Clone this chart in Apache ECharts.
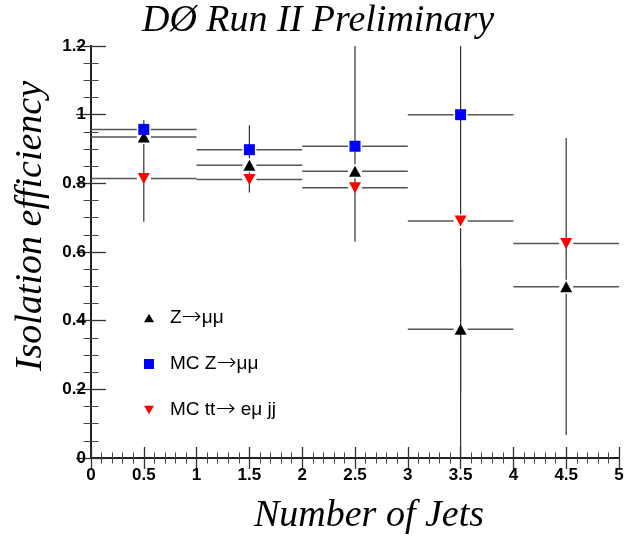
<!DOCTYPE html>
<html>
<head>
<meta charset="utf-8">
<script src="https://cdn.jsdelivr.net/npm/echarts@6/dist/echarts.min.js"></script>
<style>html,body{margin:0;padding:0;background:#fff;}#c{width:636px;height:539px;}</style>
</head>
<body>
<div id="c"></div>
<script>
// ---- data ----
const binCenters = [0.5, 1.5, 2.5, 3.5, 4.5];
const binHalfWidth = [0.5, 0.5, 0.5, 0.5, 0.5];

const zmmEff  = [0.935, 0.853, 0.835, 0.375, 0.499];
const zmmLow  = [0.688, 0.773, 0.630, 0.190, 0.067];
const zmmHigh = [0.984, 0.969, 1.200, 0.553, 0.932];

const mcZEff  = [0.957, 0.898, 0.908, 1.000, null];
const mcZLow  = [0.950, 0.890, 0.900, 1.000, null];
const mcZHigh = [0.965, 0.905, 0.915, 1.000, null];

const ttEff  = [0.814, 0.811, 0.787, 0.690, 0.625];
const ttLow  = [0.808, 0.805, 0.780, 0.000, 0.625];
const ttHigh = [0.820, 0.817, 0.795, 1.200, 0.625];

const xTicks = [0, 0.5, 1, 1.5, 2, 2.5, 3, 3.5, 4, 4.5, 5];
const yTicks = [0, 0.2, 0.4, 0.6, 0.8, 1, 1.2];

const seriesNames = ['Z\u2192\u03bc\u03bc', 'MC Z\u2192\u03bc\u03bc', 'MC tt\u2192 e\u03bc jj'];

// ---- build ----
function pts(eff) {
  return binCenters.map((x, i) => eff[i] == null ? null : [x, eff[i]]).filter(Boolean);
}
function errs(eff, lo, hi) {
  return binCenters.map((x, i) => eff[i] == null ? null : [x, eff[i], binHalfWidth[i], lo[i], hi[i]]).filter(Boolean);
}

const GAP = 7;
function errRender(params, api) {
  const x = api.value(0), y = api.value(1), xe = api.value(2), lo = api.value(3), hi = api.value(4);
  const c = api.coord([x, y]);
  const l = api.coord([x - xe, y]);
  const r = api.coord([x + xe, y]);
  const pLo = api.coord([x, lo]);
  const pHi = api.coord([x, hi]);
  const hs = {stroke: '#555', lineWidth: 1.5};
  const vs = {stroke: '#333', lineWidth: 1.2};
  const ch = [];
  if (c[0] - GAP > l[0]) ch.push({type: 'line', shape: {x1: l[0], y1: c[1], x2: c[0] - GAP, y2: c[1]}, style: hs});
  if (r[0] > c[0] + GAP) ch.push({type: 'line', shape: {x1: c[0] + GAP, y1: c[1], x2: r[0], y2: c[1]}, style: hs});
  if (pHi[1] < c[1] - GAP) ch.push({type: 'line', shape: {x1: c[0], y1: pHi[1], x2: c[0], y2: c[1] - GAP}, style: vs});
  if (pLo[1] > c[1] + GAP) ch.push({type: 'line', shape: {x1: c[0], y1: c[1] + GAP, x2: c[0], y2: pLo[1]}, style: vs});
  return {type: 'group', children: ch};
}

const downTri = 'path://M0,0L20,0L10,17.3Z';
const upTri = 'path://M10,0L20,17.3L0,17.3Z';

const tickLabelStyle = {fontFamily: 'Liberation Sans, Arial, sans-serif', fontWeight: 'bold', fontSize: 17, color: '#000'};
const axisLineStyle = {show: true, lineStyle: {color: '#222', width: 2}};

function xAx(pos, showLabel, tl) {
  return {
    type: 'value', position: pos, min: 0, max: 5, interval: 0.5,
    axisLine: axisLineStyle,
    axisTick: {show: true, inside: true, length: tl, lineStyle: {color: '#333', width: 1.3}},
    minorTick: {show: true, splitNumber: 5, length: tl / 2, lineStyle: {color: '#444', width: 1}},
    splitLine: {show: false},
    axisLabel: showLabel ? Object.assign({margin: 9, formatter: v => String(+v.toFixed(1))}, tickLabelStyle) : {show: false}
  };
}
function yAx(pos, showLabel, tl) {
  return {
    type: 'value', position: pos, min: 0, max: 1.2, interval: 0.2,
    axisLine: axisLineStyle,
    axisTick: {show: true, inside: true, length: tl, lineStyle: {color: '#333', width: 1.3}},
    minorTick: {show: true, splitNumber: 4, length: tl / 2, lineStyle: {color: '#444', width: 1}},
    splitLine: {show: false},
    axisLabel: showLabel ? Object.assign({margin: 5, formatter: v => String(+v.toFixed(1))}, tickLabelStyle) : {show: false}
  };
}

const chart = echarts.init(document.getElementById('c'), null, {renderer: 'canvas'});
const serif = 'Liberation Serif, Times New Roman, serif';
chart.setOption({
  animation: false,
  backgroundColor: '#fff',
  grid: {left: 91, right: 17, top: 46, bottom: 81},
  xAxis: [xAx('bottom', true, 11), xAx('top', false, 11)],
  yAxis: [yAx('left', true, 15), yAx('right', false, 15)],
  legend: {
    orient: 'vertical', left: 144, top: 306, itemGap: 22, padding: 0,
    itemWidth: 10, itemHeight: 10,
    formatter: n => n.replace('\u2192', '{a|\u2192}'),
    textStyle: {
      fontFamily: 'Liberation Sans, Arial, sans-serif', fontSize: 19, lineHeight: 20, color: '#000', padding: [0, 0, 0, 11],
      rich: {a: {fontFamily: 'DejaVu Sans, sans-serif', fontWeight: 200, fontSize: 24, lineHeight: 20, color: '#000'}}
    },
    data: seriesNames.map(n => ({name: n}))
  },
  graphic: [
    {type: 'text', x: 318, y: 21, style: {text: 'D\u00d8 Run II Preliminary', font: 'italic 38px ' + serif, fill: '#000', align: 'center', verticalAlign: 'middle'}},
    {type: 'text', x: 369, y: 516, style: {text: 'Number of Jets', font: 'italic 38px ' + serif, fill: '#000', align: 'center', verticalAlign: 'middle'}},
    {type: 'text', x: 31, y: 226, rotation: Math.PI / 2, style: {text: 'Isolation efficiency', font: 'italic 38px ' + serif, fill: '#000', align: 'center', verticalAlign: 'middle'}}
  ],
  series: [
    {type: 'custom', renderItem: errRender, data: errs(zmmEff, zmmLow, zmmHigh), clip: true, z: 1, silent: true},
    {type: 'custom', renderItem: errRender, data: errs(mcZEff, mcZLow, mcZHigh), clip: true, z: 1, silent: true},
    {type: 'custom', renderItem: errRender, data: errs(ttEff, ttLow, ttHigh), clip: true, z: 1, silent: true},
    {name: seriesNames[0], type: 'scatter', data: pts(zmmEff), symbol: upTri, symbolSize: [12, 11], itemStyle: {color: '#000', opacity: 1}, z: 3},
    {name: seriesNames[1], type: 'scatter', data: pts(mcZEff), symbol: 'rect', symbolSize: 11, itemStyle: {color: '#0000ff', opacity: 1}, z: 3},
    {name: seriesNames[2], type: 'scatter', data: pts(ttEff), symbol: downTri, symbolSize: [12, 11], itemStyle: {color: '#ff0000', opacity: 1}, z: 3}
  ]
});
</script>
</body>
</html>
